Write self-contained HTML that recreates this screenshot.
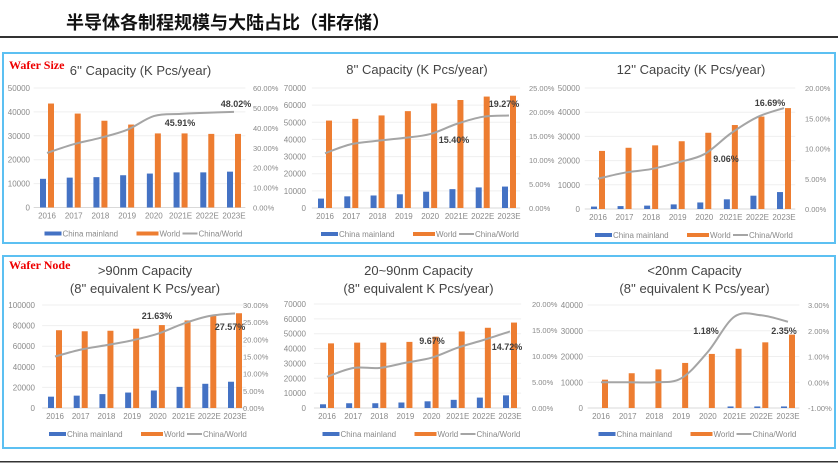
<!DOCTYPE html>
<html><head><meta charset="utf-8">
<style>
html,body{margin:0;padding:0;background:#fff;}
svg{display:block;font-family:"Liberation Sans","Noto Sans CJK SC",sans-serif;}
</style></head>
<body>
<svg id="s" width="838" height="474" viewBox="0 0 838 474" xmlns="http://www.w3.org/2000/svg">
<text x="228" y="29" text-anchor="middle" font-size="18" font-weight="bold" fill="#111" font-family="'Noto Sans CJK SC',sans-serif">半导体各制程规模与大陆占比（非存储）</text>
<rect x="0" y="36" width="838" height="2" fill="#333"/>
<rect x="3" y="53" width="832" height="190" fill="none" stroke="#5cc0f2" stroke-width="2"/>
<rect x="3" y="256" width="832" height="192" fill="none" stroke="#5cc0f2" stroke-width="2"/>
<rect x="0" y="461" width="838" height="1.5" fill="#333"/>
<text x="9" y="69" font-size="12" font-weight="bold" fill="#e00" font-family="'Liberation Serif',serif">Wafer Size</text>
<text x="9" y="269" font-size="12" font-weight="bold" fill="#e00" font-family="'Liberation Serif',serif">Wafer Node</text>
<g id="g"></g>
</svg>
<script>
var NS="http://www.w3.org/2000/svg",G=document.getElementById('g');
function el(t,a,txt){var e=document.createElementNS(NS,t);for(var k in a)e.setAttribute(k,a[k]);if(txt!=null)e.textContent=txt;G.appendChild(e);return e;}
var cats=['2016','2017','2018','2019','2020','2021E','2022E','2023E'];
function chart(p){
  var step=(p.c7-p.c0)/7,x1=p.c0-step/2,x2=p.c7+step/2-2;
  var L=p.lmax/p.lstep, ylp=function(v){return p.yb-(v/p.lmax)*(p.yb-p.yt);};
  var yr=function(v){return p.yb-((v-p.rmin)/(p.rmax-p.rmin))*(p.yb-p.yt);};
  for(var i=0;i<=L;i++){var v=i*p.lstep,y=ylp(v);
    el('line',{x1:x1,x2:x2,y1:y,y2:y,stroke:i==0?'#d9d9d9':'#efefef','stroke-width':1});
    el('text',{x:p.lx,y:y+3,'text-anchor':'end','font-size':8,fill:'#8a8a8a'},v);}
  var R=Math.round((p.rmax-p.rmin)/p.rstep);
  for(var i=0;i<=R;i++){var v=p.rmin+i*p.rstep;
    el('text',{x:p.rx,y:yr(v)+3,'font-size':7.5,fill:'#8a8a8a'},v.toFixed(2)+'%');}
  for(var i=0;i<8;i++){var c=p.c0+i*step;
    var yc=ylp(p.china[i]);el('rect',{x:c-7,y:yc,width:6,height:p.yb-yc,fill:'#4472c4'});
    var yw=ylp(p.world[i]);el('rect',{x:c+1,y:yw,width:6,height:p.yb-yw,fill:'#ed7d31'});
    el('text',{x:c,y:p.yb+11,'text-anchor':'middle','font-size':8,fill:'#8a8a8a'},cats[i]);}
  var pts=p.ratio.map(function(v,i){return [p.c0+i*step,yr(v)];});
  var d='M'+pts[0][0]+','+pts[0][1];
  for(var i=0;i<7;i++){var p0=pts[Math.max(i-1,0)],p1=pts[i],p2=pts[i+1],p3=pts[Math.min(i+2,7)];
    d+=' C'+(p1[0]+(p2[0]-p0[0])/6)+','+(p1[1]+(p2[1]-p0[1])/6)+' '+(p2[0]-(p3[0]-p1[0])/6)+','+(p2[1]-(p3[1]-p1[1])/6)+' '+p2[0]+','+p2[1];}
  el('path',{d:d,fill:'none',stroke:'#a5a5a5','stroke-width':2});
  p.labels.forEach(function(l){el('text',{x:l[0],y:l[1],'font-size':9,'font-weight':'bold',fill:'#404040','text-anchor':'middle'},l[2]);});
  var cx=(p.c0+p.c7)/2, ly=p.yb+27;
  el('rect',{x:cx-96,y:ly-3,width:17,height:4,fill:'#4472c4'});
  el('text',{x:cx-78,y:ly+2,'font-size':8,fill:'#8a8a8a'},'China mainland');
  el('rect',{x:cx-4,y:ly-3,width:22,height:4,fill:'#ed7d31'});
  el('text',{x:cx+19,y:ly+2,'font-size':8,fill:'#8a8a8a'},'World');
  el('line',{x1:cx+42,x2:cx+57,y1:ly-1,y2:ly-1,stroke:'#a5a5a5','stroke-width':2});
  el('text',{x:cx+58,y:ly+2,'font-size':8,fill:'#8a8a8a'},'China/World');
  p.title.forEach(function(t,i){el('text',{x:cx,y:p.ty+i*18,'text-anchor':'middle','font-size':13,fill:'#444'},t);});
}
chart({c0:47,c7:234,yt:88,yb:207.5,lx:30,rx:253,lmax:50000,lstep:10000,rmin:0,rmax:60,rstep:10,ty:75,
 title:["6'' Capacity (K Pcs/year)"],
 china:[12000,12500,12700,13500,14200,14700,14700,15000],world:[43500,39300,36300,34700,31000,31000,30800,30800],
 ratio:[27.4,31.8,35,39,45.91,47,47.6,48.02],labels:[[180,126,'45.91%'],[236,107,'48.02%']]});
chart({c0:325,c7:509,yt:88,yb:208,lx:306,rx:529,lmax:70000,lstep:10000,rmin:0,rmax:25,rstep:5,ty:74,
 title:["8'' Capacity (K Pcs/year)"],
 china:[5500,6800,7300,8000,9500,11000,12000,12500],world:[51000,52000,54000,56500,61000,63000,65000,65500],
 ratio:[11.4,13.3,14,14.6,15.4,17.5,19,19.27],labels:[[454,143,'15.40%'],[504,107,'19.27%']]});
chart({c0:598,c7:784,yt:88,yb:209,lx:580,rx:805,lmax:50000,lstep:10000,rmin:0,rmax:20,rstep:5,ty:74,
 title:["12''  Capacity (K Pcs/year)"],
 china:[1000,1200,1400,1900,2700,4000,5500,7000],world:[24000,25300,26300,28000,31500,34700,38200,41700],
 ratio:[5,6,6.6,7.7,9.06,12.5,15.2,16.69],labels:[[726,162,'9.06%'],[770,106,'16.69%']]});
chart({c0:55,c7:235,yt:305,yb:408,lx:35,rx:243,lmax:100000,lstep:20000,rmin:0,rmax:30,rstep:5,ty:275,
 title:[">90nm Capacity","(8'' equivalent K Pcs/year)"],
 china:[11000,12000,13500,15000,17000,20500,23500,25500],world:[75500,74500,75000,77000,80500,85000,89500,92000],
 ratio:[15,17,18.3,19.7,21.63,24.6,26.8,27.57],labels:[[157,319,'21.63%'],[230,330,'27.57%']]});
chart({c0:327,c7:510,yt:304,yb:408,lx:306,rx:532,lmax:70000,lstep:10000,rmin:0,rmax:20,rstep:5,ty:275,
 title:["20~90nm Capacity","(8'' equivalent K Pcs/year)"],
 china:[2500,3200,3200,3700,4500,5500,7000,8500],world:[43500,44000,44000,44500,48000,51500,54000,57500],
 ratio:[6,7.7,7.7,8.7,9.67,11.6,13.1,14.72],labels:[[432,344,'9.67%'],[507,350,'14.72%']]});
chart({c0:601,c7:788,yt:305,yb:408,lx:583,rx:808,lmax:40000,lstep:10000,rmin:-1,rmax:3,rstep:1,ty:275,
 title:["<20nm Capacity","(8'' equivalent K Pcs/year)"],
 china:[0,0,0,0,0,600,600,600],world:[11000,13500,15000,17500,21000,23000,25500,28500],
 ratio:[0,0,0,0.15,1.18,2.55,2.6,2.35],labels:[[706,334,'1.18%'],[784,334,'2.35%']]});
</script>
</body></html>
